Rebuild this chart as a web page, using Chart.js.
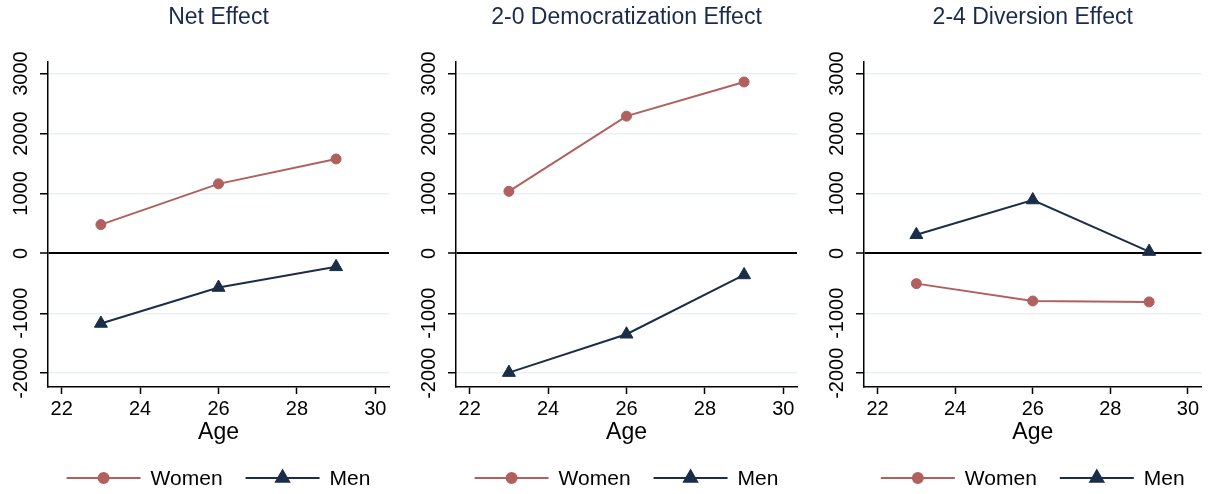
<!DOCTYPE html>
<html>
<head>
<meta charset="utf-8">
<title>Effects by Age</title>
<script src="https://cdn.jsdelivr.net/npm/chart.js"></script>
<style>
  body { margin: 0; background: #fff; width: 1210px; height: 494px; overflow: hidden; position: relative; }
  .panel { position: absolute; top: 0; height: 494px; }
</style>
</head>
<body>
<div class="panel" style="left:0; width:408px"><canvas id="c0"></canvas></div>
<div class="panel" style="left:408px; width:408px"><canvas id="c1"></canvas></div>
<div class="panel" style="left:816px; width:394px"><canvas id="c2"></canvas></div>
<script>
// data
const ages = [23, 26, 29];
const xTicks = [22, 24, 26, 28, 30];
const yTicks = [-2000, -1000, 0, 1000, 2000, 3000];
const titles = ['Net Effect', '2-0 Democratization Effect', '2-4 Diversion Effect'];
const seriesNames = ['Women', 'Men'];

const womenNet = [480, 1160, 1575];
const menNet = [-1170, -570, -225];
const womenDem = [1035, 2290, 2860];
const menDem = [-1990, -1350, -360];
const womenDiv = [-505, -795, -810];
const menDiv = [310, 890, 30];

const WOMEN = '#b0605f';
const MEN = '#1a2e48';
const FONT = '"Liberation Sans", Arial, sans-serif';

Chart.defaults.font.family = FONT;
Chart.defaults.color = '#000';

// rotated y tick labels (read bottom to top)
const yLabels = {
  id: 'yLabels',
  afterDraw(chart) {
    const s = chart.scales.y, ctx = chart.ctx;
    ctx.save();
    ctx.font = '20px ' + FONT;
    ctx.fillStyle = '#000';
    ctx.textAlign = 'center';
    ctx.textBaseline = 'middle';
    s.ticks.forEach(t => {
      ctx.save();
      ctx.translate(21, s.getPixelForValue(t.value));
      ctx.rotate(-Math.PI / 2);
      ctx.fillText(String(t.value), 0, 0);
      ctx.restore();
    });
    ctx.restore();
  }
};

// legend with line + marker, like the stata one
const lineLegend = {
  id: 'lineLegend',
  afterDraw(chart) {
    const ctx = chart.ctx, area = chart.chartArea;
    const y = chart.height - 16;
    ctx.save();
    ctx.font = '21px ' + FONT;
    const items = chart.data.datasets.map(d => ({ d, w: ctx.measureText(d.label).width }));
    let total = 0;
    items.forEach((it, i) => { total += 74 + 10 + it.w + (i ? 23 : 0); });
    let x = (area.left + area.right) / 2 - total / 2;
    items.forEach((it, i) => {
      if (i) x += 23;
      const d = it.d;
      ctx.strokeStyle = d.borderColor;
      ctx.lineWidth = 2;
      ctx.beginPath(); ctx.moveTo(x, y); ctx.lineTo(x + 74, y); ctx.stroke();
      ctx.fillStyle = d.borderColor;
      Chart.helpers.drawPoint(ctx, { pointStyle: d.pointStyle, radius: d.pointRadius, borderWidth: 1 }, x + 37, y);
      ctx.fill();
      x += 84;
      ctx.fillStyle = '#000';
      ctx.textAlign = 'left';
      ctx.textBaseline = 'middle';
      ctx.fillText(d.label, x, y + 1);
      x += it.w;
    });
    ctx.restore();
  }
};

function pts(vals) {
  return ages.map((a, i) => ({ x: a, y: vals[i] }));
}

function makePanel(id, title, women, men, rightPad) {
  new Chart(document.getElementById(id), {
    type: 'line',
    data: {
      datasets: [
        { label: seriesNames[0], data: pts(women), borderColor: WOMEN, backgroundColor: WOMEN,
          borderWidth: 2, pointStyle: 'circle', pointRadius: 5, pointHoverRadius: 5, pointBorderWidth: 1 },
        { label: seriesNames[1], data: pts(men), borderColor: MEN, backgroundColor: MEN,
          borderWidth: 2, pointStyle: 'triangle', pointRadius: 7.5, pointHoverRadius: 7.5, pointBorderWidth: 1 }
      ]
    },
    options: {
      responsive: true,
      maintainAspectRatio: false,
      animation: false,
      layout: { padding: { top: 0, left: 0, right: rightPad, bottom: 47 } },
      plugins: {
        legend: { display: false },
        tooltip: { enabled: false },
        title: {
          display: true, text: title, fullSize: false, color: '#1a2b4c',
          font: { size: 23, weight: 'normal' }, padding: { top: 4, bottom: 30 }
        }
      },
      scales: {
        x: {
          type: 'linear', min: 21.65, max: 30.35,
          afterBuildTicks: s => { s.ticks = xTicks.map(v => ({ value: v })); },
          afterFit: s => { s.height = 60; },
          ticks: { font: { size: 20 }, color: '#000', padding: 3 },
          grid: { drawOnChartArea: false, drawTicks: true, tickLength: 7, tickColor: '#000', tickWidth: 1.5 },
          border: { display: true, color: '#000', width: 1.5 },
          title: { display: true, text: 'Age', font: { size: 23 }, color: '#000', padding: { top: 0, bottom: 1 } }
        },
        y: {
          min: -2230, max: 3200,
          afterBuildTicks: s => { s.ticks = yTicks.map(v => ({ value: v })); },
          afterFit: s => { s.width = 48; },
          ticks: { display: false },
          grid: {
            color: c => (c.tick && c.tick.value === 0) ? '#000' : '#eaf1f4',
            lineWidth: c => (c.tick && c.tick.value === 0) ? 2 : 1.5,
            tickColor: '#000', tickLength: 8, tickWidth: 1.5
          },
          border: { display: true, color: '#000', width: 1.5 }
        }
      }
    },
    plugins: [yLabels, lineLegend]
  });
}

makePanel('c0', titles[0], womenNet, menNet, 19);
makePanel('c1', titles[1], womenDem, menDem, 19);
makePanel('c2', titles[2], womenDiv, menDiv, 5);
</script>
</body>
</html>
